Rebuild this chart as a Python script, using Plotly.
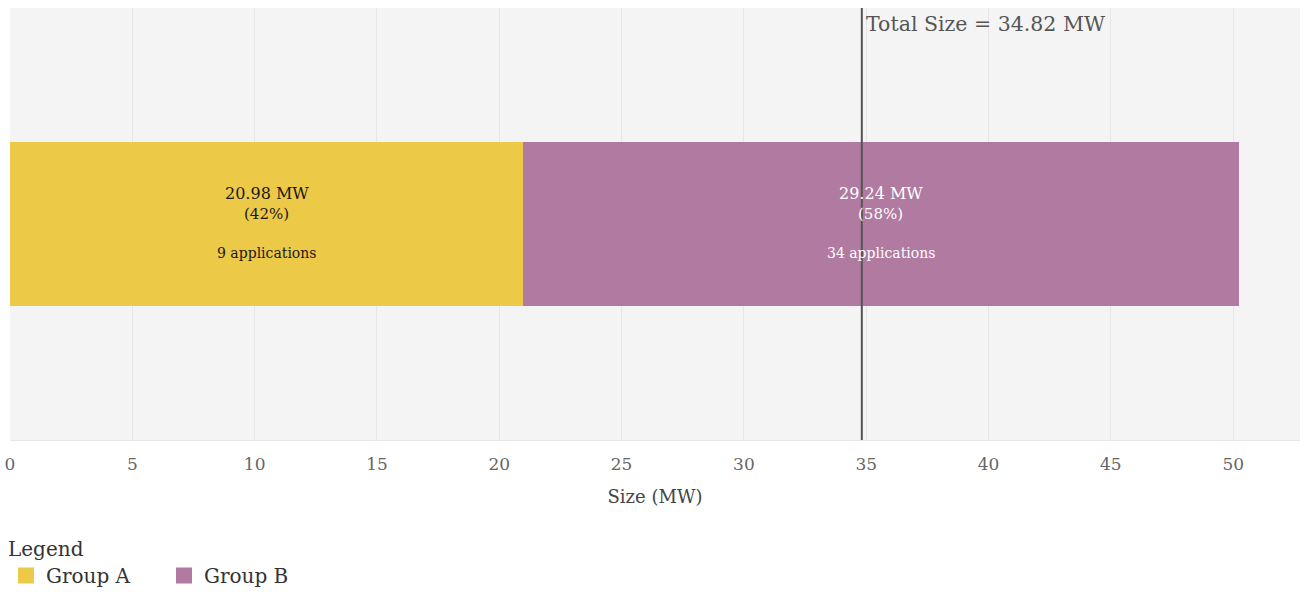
import plotly.graph_objects as go

# Capacity by group (MW), share of total and application counts
groups = ["Group A", "Group B"]
sizes_mw = [20.98, 29.24]
shares_pct = [42, 58]
applications = [9, 34]
colors = ["#EDC948", "#B07AA1"]
label_colors = ["#1a1a1a", "#ffffff"]
total_size_mw = 34.82
x_ticks = [0, 5, 10, 15, 20, 25, 30, 35, 40, 45, 50]

FONT = "DejaVu Serif"

fig = go.Figure()

base = 0.0
for name, size, color in zip(groups, sizes_mw, colors):
    fig.add_trace(go.Bar(
        x=[size], y=[0], base=[base], orientation="h", width=0.38,
        marker=dict(color=color, line=dict(width=0)),
        name=name, showlegend=False, hoverinfo="skip",
    ))
    base += size

# Legend entries with larger square swatches
for name, color in zip(groups, colors):
    fig.add_trace(go.Scatter(
        x=[None], y=[None], mode="markers", name=name,
        marker=dict(symbol="square", size=17, color=color),
    ))

# Labels centred inside each segment
start = 0.0
for size, pct, n, fc in zip(sizes_mw, shares_pct, applications, label_colors):
    cx = start + size / 2
    for text, fs, dy in [(f"{size:.2f} MW", 16, 31), (f"({pct}%)", 15, 10), (f"{n} applications", 14, -29)]:
        fig.add_annotation(x=cx, y=0, text=text, showarrow=False, yshift=dy,
                           font=dict(family=FONT, size=fs, color=fc))
    start += size

# Reference line for total size
fig.add_shape(type="line", x0=total_size_mw, x1=total_size_mw, xref="x",
              y0=0, y1=1, yref="paper", line=dict(color="#555555", width=2))
fig.add_annotation(x=total_size_mw, xref="x", y=1, yref="paper", yanchor="top",
                   xanchor="left", xshift=2, yshift=-2, showarrow=False,
                   text=f"Total Size = {total_size_mw:.2f} MW",
                   font=dict(family=FONT, size=20.5, color="#555555"))

fig.update_layout(
    width=1304, height=592,
    margin=dict(l=10, r=4, t=8, b=152, autoexpand=False),
    paper_bgcolor="white", plot_bgcolor="#f4f4f4",
    font=dict(family=FONT, color="#666666"),
    barmode="overlay", bargap=0,
    legend=dict(
        orientation="h", x=6 / 1304, xanchor="left", xref="container",
        y=1 - 530 / 592, yanchor="top", yref="container",
        title=dict(text="Legend", side="top", font=dict(family=FONT, size=20, color="#333333")),
        font=dict(family=FONT, size=20, color="#333333"),
        itemwidth=30, entrywidth=113, entrywidthmode="pixels",
        tracegroupgap=0, bgcolor="rgba(0,0,0,0)",
    ),
    xaxis=dict(
        range=[0, sum(sizes_mw) * 1.05], tickvals=x_ticks,
        showgrid=True, gridcolor="#e6e6e6", gridwidth=1, zeroline=False,
        showline=True, linecolor="#e6e6e6", ticks="", ticklabelstandoff=9,
        tickfont=dict(family=FONT, size=17, color="#666666"),
        title=dict(text="Size (MW)", standoff=16, font=dict(family=FONT, size=18, color="#444444")),
    ),
    yaxis=dict(range=[-0.5, 0.5], showticklabels=False, showgrid=False, zeroline=False),
)

fig.write_html("out.html")
